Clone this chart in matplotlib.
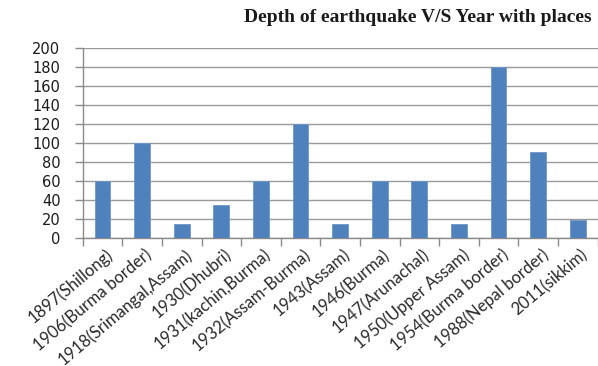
import matplotlib
matplotlib.use("Agg")
import matplotlib.pyplot as plt
import matplotlib.transforms as mtransforms
import numpy as np

categories = [
    "1897(Shillong)", "1906(Burma border)", "1918(Srimangal,Assam)",
    "1930(Dhubri)", "1931(kachin,Burma)", "1932(Assam-Burma)",
    "1943(Assam)", "1946(Burma)", "1947(Arunachal)",
    "1950(Upper Assam)", "1954(Burma border)", "1988(Nepal border)",
    "2011(sikkim)",
]
depths = [60, 100, 15, 35, 60, 120, 15, 60, 60, 15, 180, 90, 19]
y_ticks = [0, 20, 40, 60, 80, 100, 120, 140, 160, 180, 200]
title = "Depth of earthquake V/S Year with places"

W, H = 598, 366
fig = plt.figure(figsize=(W / 100, H / 100), dpi=100)
left, right, top, bottom = 82.7, 597.5, 47.7, 238
ax = fig.add_axes([left / W, 1 - bottom / H, (right - left) / W, (bottom - top) / H])

x = np.arange(len(categories))
ax.bar(x, depths, width=0.4, color="#4F81BD", edgecolor="#6D97C9",
       linewidth=0.6, zorder=3)

ax.set_xlim(-0.5, len(categories) - 0.5)
ax.set_ylim(0, 200)
ax.set_yticks(y_ticks)
ax.set_yticklabels([str(v) for v in y_ticks], fontsize=10.5,
                   family="DejaVu Sans", color="#1a1a1a")
ax.yaxis.grid(True, color="#9a9a9a", linewidth=1.0, zorder=0)
ax.set_axisbelow(True)

ax.set_xticks(x)
ax.set_xticklabels(categories, rotation=40, ha="right", va="center",
                   rotation_mode="anchor", fontsize=12, family="Lato",
                   color="#2a2a2a")
ax.set_xticks(np.arange(len(categories) + 1) - 0.5, minor=True)
ax.tick_params(axis="x", which="major", length=0, pad=12)
ax.tick_params(axis="x", which="minor", length=6, color="#8a8a8a", width=1)
ax.tick_params(axis="y", length=6, color="#8a8a8a", width=1, pad=10)

# nudge the slanted category labels so they end just right of each bar
shift = mtransforms.ScaledTranslation(8 / 100, 2 / 100, fig.dpi_scale_trans)
for lbl in ax.get_xticklabels():
    lbl.set_transform(lbl.get_transform() + shift)

for s in ["top", "right"]:
    ax.spines[s].set_visible(False)
for s in ["left", "bottom"]:
    ax.spines[s].set_color("#8a8a8a")
    ax.spines[s].set_linewidth(1)

fig.text(592 / W, 1 - 17 / H, title, ha="right", va="center",
         fontsize=14, family="Liberation Serif", fontweight="bold", color="#1a1a1a")

fig.savefig("out.png", dpi=100)
